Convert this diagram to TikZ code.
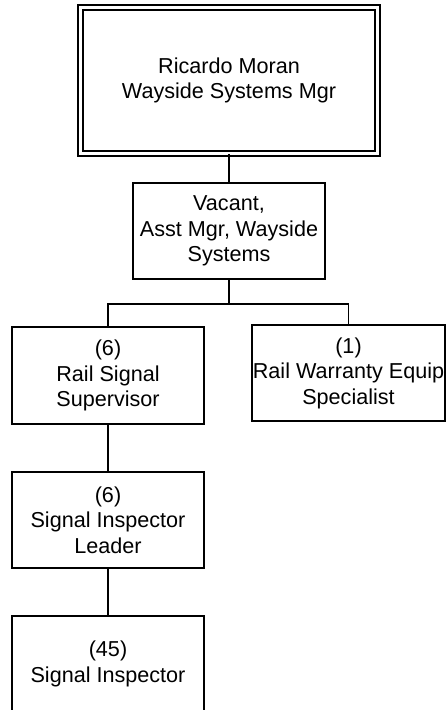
\documentclass[tikz,border=0pt]{standalone}
\usepackage{fontspec}
\setmainfont{Liberation Sans}
\begin{document}
\begin{tikzpicture}[x=1pt,y=-1pt,
  orgbox/.style={draw, line width=1.3pt, inner sep=0pt, align=center,
    font=\fontsize{21.6}{25.5}\selectfont, fill=white},
  conn/.style={line width=1.3pt}]
\useasboundingbox (0,0) rectangle (447,710);
\node[orgbox, double, line width=1.4pt, double distance=3.6pt,
  minimum width=297pt, minimum height=146pt] (top) at (229,80.5)
  {Ricardo Moran\\Wayside Systems Mgr};
\node[orgbox, minimum width=192pt, minimum height=96pt] (vac) at (229,231)
  {Vacant,\\Asst Mgr, Wayside\\Systems};
\node[orgbox, minimum width=192pt, minimum height=97pt] (sup) at (108,375.5)
  {(6)\\Rail Signal\\Supervisor};
\node[orgbox, minimum width=193pt, minimum height=96pt] (war) at (348.5,373)
  {(1)\\Rail Warranty Equip\\Specialist};
\node[orgbox, minimum width=192pt, minimum height=96pt] (lead) at (108,520)
  {(6)\\Signal Inspector\\Leader};
\node[orgbox, minimum width=192pt, minimum height=96pt] (insp) at (108,664)
  {(45)\\Signal Inspector};
\coordinate (bar) at (229,304);
\draw[conn] (top.south) -- (vac.north);
\draw[conn] (vac.south) -- (bar);
\draw[conn] (sup.north) |- (bar) -| (war.north);
\draw[conn] (sup.south) -- (lead.north);
\draw[conn] (lead.south) -- (insp.north);
\end{tikzpicture}
\end{document}
